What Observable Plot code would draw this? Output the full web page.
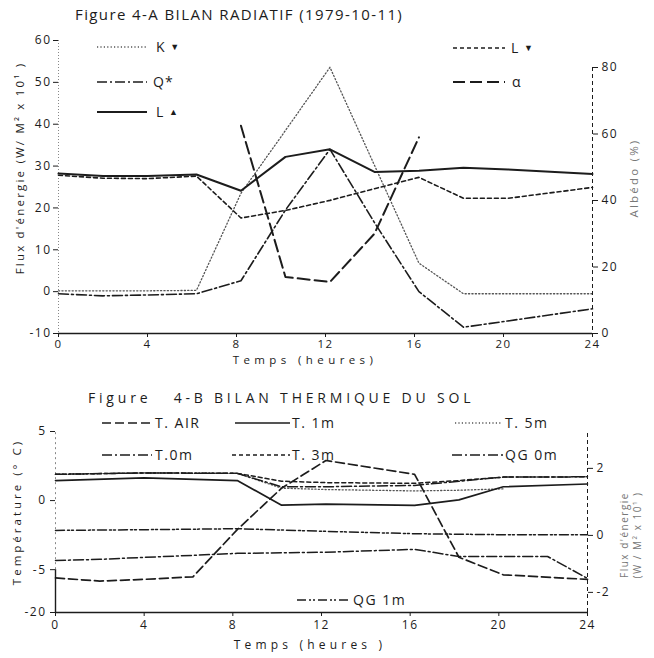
<!DOCTYPE html>
<html><head><meta charset="utf-8">
<script src="https://cdn.jsdelivr.net/npm/d3@7"></script>
<script src="https://cdn.jsdelivr.net/npm/@observablehq/plot@0.6"></script>
<style>
body{margin:0;background:#fff;}
#wrap{position:relative;width:654px;height:658px;overflow:hidden;background:#fff;font-family:"Open Sans",sans-serif;color:#1c1c1c;}
.lbl{position:absolute;white-space:pre;line-height:1;}
</style></head><body><div id="wrap"></div>
<script>
// ---------- Figure 4-A : BILAN RADIATIF ----------
const hoursA   = [0, 2, 4, 6.2, 8.2, 10.2, 12.2, 14.2, 16.2, 18.2, 20.2, 24];
const kDown    = [0.2, 0.2, 0.2, 0.3, 23.5, 38.5, 53.6, 30.2, 6.8, -0.5, -0.5, -0.5];
const lDown    = [27.8, 27.1, 27.0, 27.6, 17.6, 19.4, 21.8, 24.6, 27.3, 22.3, 22.3, 24.9];
const qStar    = [-0.5, -1.0, -0.8, -0.5, 2.6, 19.5, 34.0, 16.5, 0.0, -8.5, -7.0, -4.1];
const lUp      = [28.2, 27.6, 27.6, 28.0, 24.1, 32.2, 34.0, 28.6, 28.9, 29.6, 29.2, 28.1];
const hoursAlb = [8.2, 10.2, 12.2, 14.2, 16.2];
const albedo   = [62.5, 17, 15.5, 30, 59];
const ticksHoursA = [0, 4, 8, 12, 16, 20, 24];
const ticksFluxA  = [-10, 0, 10, 20, 30, 40, 50, 60];
const ticksAlbedo = [0, 20, 40, 60, 80];

// ---------- Figure 4-B : BILAN THERMIQUE DU SOL ----------
const hoursAir = [0, 2, 4, 6.2, 8.2, 10.2, 12.2, 16.2, 18.2, 20.2, 24];
const tAir     = [-7.9, -9.0, -8.4, -7.5, -2.1, 0.9, 2.9, 1.9, -4.1, -6.8, -8.4];
const hoursSoil = [0, 4, 8.2, 10.2, 12.2, 16.2, 18.2, 20.2, 24];
const t1m      = [1.45, 1.65, 1.45, -0.33, -0.25, -0.35, 0.05, 1.0, 1.2];
const t3m      = [1.9, 2.0, 1.97, 1.4, 1.3, 1.25, 1.45, 1.7, 1.72];
const t0m      = [1.9, 2.0, 1.97, 1.0, 1.0, 1.1, 1.4, 1.7, 1.72];
const hours5m  = [0, 4, 8.2, 10.2, 12.2, 16.2, 18.2, 20.2];
const t5m      = [1.9, 2.0, 1.97, 0.9, 0.8, 0.7, 0.75, 0.85];
const hoursQg0 = [0, 2, 4, 6.2, 8.2, 12.2, 16.2, 18.2, 22.2, 24];
const qg0m     = [-0.88, -0.84, -0.77, -0.70, -0.63, -0.59, -0.49, -0.74, -0.74, -1.51];
const hoursQg1 = [0, 4, 8.2, 12.2, 16.2, 20.2, 24];
const qg1m     = [0.15, 0.17, 0.2, 0.12, 0.05, 0.02, 0.02];
const ticksHoursB = [0, 4, 8, 12, 16, 20, 24];
const ticksTempB  = [5, 0, -5, -20];
const ticksFluxB  = [2, 0, -2];

// Broken (non-uniform) axes of Figure 4-B, as printed:
// temperature axis: -20 sits just below -5; flux axis: the negative half is compressed.
const tempBreak = d3.scaleLinear().domain([-20, -5, 0, 5]).range([-8.1, -5, 0, 5]);
const fluxBreak = d3.scaleLinear().domain([-2, 0, 2]).range([-1.7, 0, 2]);

// ---------- helpers ----------
const rows = (hs, vs) => hs.map((h, i) => ({h, v: vs[i]}));
const wrap = document.getElementById("wrap");
const W = 654, H = 658;
const INK = "#1c1c1c";
const baseStyle = {background: "transparent", fontFamily: "'Open Sans', sans-serif", fontSize: "12px", letterSpacing: "1.5px", color: INK, overflow: "visible"};
function add(svg) { svg.style.position = "absolute"; svg.style.left = "0px"; svg.style.top = "0px"; wrap.appendChild(svg); }

const DOT = "1.2,2.2", SHORT = "4,3", DASHDOT = "10,3,2,3", LONG = "12,5", LONGB = "9,4", DDD = "9,3,2,2,2,3";

// ---- Panel A, left scale (flux) ----
add(Plot.plot({
  width: W, height: H, marginLeft: 58, marginRight: 62, marginTop: 40, marginBottom: 325,
  style: baseStyle,
  x: {domain: [0, 24], axis: null},
  y: {domain: [-10, 60], axis: null},
  marks: [
    Plot.ruleX([0], {stroke: "#888", strokeDasharray: "1,2"}),
    Plot.ruleY([-10], {stroke: INK, strokeWidth: 1.4}),
    Plot.axisX({ticks: ticksHoursA, tickFormat: d => String(d), tickSize: 4, tickPadding: 2, label: null, fontSize: 11.5}),
    Plot.axisY({ticks: ticksFluxA, tickFormat: d => String(d), tickSize: 5, tickPadding: 2, label: null, fontSize: 12}),
    Plot.line(rows(hoursA, kDown), {x: "h", y: "v", stroke: "#555", strokeWidth: 1.3, strokeDasharray: DOT}),
    Plot.line(rows(hoursA, lDown), {x: "h", y: "v", stroke: INK, strokeWidth: 1.6, strokeDasharray: SHORT}),
    Plot.line(rows(hoursA, qStar), {x: "h", y: "v", stroke: INK, strokeWidth: 1.6, strokeDasharray: DASHDOT}),
    Plot.line(rows(hoursA, lUp), {x: "h", y: "v", stroke: INK, strokeWidth: 2})
  ]
}));

// ---- Panel A, right scale (albedo) ----
add(Plot.plot({
  width: W, height: H, marginLeft: 58, marginRight: 62, marginTop: 67, marginBottom: 325,
  style: baseStyle,
  x: {domain: [0, 24], axis: null},
  y: {domain: [0, 80], axis: null},
  marks: [
    Plot.ruleX([24], {stroke: INK, strokeDasharray: "4,3"}),
    Plot.axisY({anchor: "right", ticks: ticksAlbedo, tickFormat: d => String(d), tickSize: 5, tickPadding: 4, label: null, fontSize: 12}),
    Plot.line(rows(hoursAlb, albedo), {x: "h", y: "v", stroke: INK, strokeWidth: 2, strokeDasharray: LONG})
  ]
}));

// ---- Panel B, left scale (temperature, broken axis) ----
add(Plot.plot({
  width: W, height: H, marginLeft: 55, marginRight: 67, marginTop: 431, marginBottom: 46,
  style: baseStyle,
  x: {domain: [0, 24], axis: null},
  y: {domain: [tempBreak(-20), tempBreak(5)], axis: null},
  marks: [
    Plot.ruleX([0], {y1: tempBreak(-20), y2: tempBreak(-5), stroke: INK, strokeWidth: 1.4}),
    Plot.ruleX([0], {y1: tempBreak(-5), y2: tempBreak(5), stroke: "#888", strokeDasharray: "2,3"}),
    Plot.ruleY([tempBreak(-20)], {stroke: INK, strokeWidth: 1.4}),
    Plot.axisX({ticks: ticksHoursB, tickFormat: d => String(d), tickSize: 4, tickPadding: 4, label: null, fontSize: 12}),
    Plot.axisY({ticks: ticksTempB.map(tempBreak), tickFormat: d => String(Math.round(tempBreak.invert(d))), tickSize: 5, tickPadding: 4, label: null, fontSize: 12}),
    Plot.line(rows(hours5m, t5m), {x: "h", y: d => tempBreak(d.v), stroke: "#555", strokeWidth: 1.3, strokeDasharray: DOT}),
    Plot.line(rows(hoursSoil, t0m), {x: "h", y: d => tempBreak(d.v), stroke: INK, strokeWidth: 1.5, strokeDasharray: DASHDOT}),
    Plot.line(rows(hoursSoil, t3m), {x: "h", y: d => tempBreak(d.v), stroke: INK, strokeWidth: 1.5, strokeDasharray: SHORT}),
    Plot.line(rows(hoursSoil, t1m), {x: "h", y: d => tempBreak(d.v), stroke: INK, strokeWidth: 1.7}),
    Plot.line(rows(hoursAir, tAir), {x: "h", y: d => tempBreak(d.v), stroke: INK, strokeWidth: 1.7, strokeDasharray: LONGB})
  ]
}));

// ---- Panel B, right scale (ground heat flux) ----
add(Plot.plot({
  width: W, height: H, marginLeft: 55, marginRight: 67, marginTop: 433, marginBottom: 46,
  style: baseStyle,
  x: {domain: [0, 24], axis: null},
  y: {domain: [-2.3, 3.04], axis: null},
  marks: [
    Plot.ruleX([24], {stroke: INK, strokeDasharray: "4,3"}),
    Plot.axisY({anchor: "right", ticks: ticksFluxB.map(fluxBreak), tickFormat: d => String(Math.round(fluxBreak.invert(d))), tickSize: 5, tickPadding: 4, label: null, fontSize: 12}),
    Plot.line(rows(hoursQg0, qg0m), {x: "h", y: d => fluxBreak(d.v), stroke: INK, strokeWidth: 1.5, strokeDasharray: DASHDOT}),
    Plot.line(rows(hoursQg1, qg1m), {x: "h", y: d => fluxBreak(d.v), stroke: INK, strokeWidth: 1.5, strokeDasharray: DDD})
  ]
}));

// ---------- text, titles and legends ----------
function label(text, x, y, opts = {}) {
  const d = document.createElement("div");
  d.className = "lbl";
  d.innerHTML = text;
  d.style.left = x + "px";
  d.style.top = y + "px";
  d.style.fontSize = (opts.size || 13) + "px";
  d.style.letterSpacing = (opts.ls ?? 1) + "px";
  if (opts.color) d.style.color = opts.color;
  let t = opts.center ? "translate(-50%,-50%)" : "translate(0,-50%)";
  if (opts.rotate) t += " rotate(-90deg)";
  d.style.transform = t;
  wrap.appendChild(d);
}
function swatch(x1, x2, y, dash, sw = 1.6, color = INK) {
  const s = d3.create("svg").attr("width", x2 - x1).attr("height", 10)
    .style("position", "absolute").style("left", x1 + "px").style("top", (y - 5) + "px");
  s.append("line").attr("x1", 0).attr("x2", x2 - x1).attr("y1", 5).attr("y2", 5)
    .attr("stroke", color).attr("stroke-width", sw).attr("stroke-dasharray", dash || null);
  wrap.appendChild(s.node());
}
const tri = c => `<span style="font-size:9px;vertical-align:2px">${c}</span>`;

// Panel A
label("Figure 4-A BILAN RADIATIF (1979-10-11)", 75, 14, {size: 15, ls: 1.4});
swatch(97, 147, 47, DOT, 1.3, "#555");   label("K " + tri("▼"), 156, 47, {size: 14});
swatch(97, 147, 82, DASHDOT, 1.6);       label("Q*", 153, 82, {size: 14});
swatch(97, 147, 112, null, 2);           label("L " + tri("▲"), 156, 112, {size: 14});
swatch(453, 505, 48, SHORT, 1.6);        label("L " + tri("▼"), 511, 48, {size: 14});
swatch(453, 505, 82, LONG, 2);           label("α", 512, 82, {size: 14});
label("Temps (heures)", 305, 360, {size: 11.5, ls: 4.4, center: true});
label("Flux d'énergie (W/ M² x 10¹ )", 20, 168, {size: 11.5, ls: 2.2, center: true, rotate: true});
label("Albédo (%)", 634, 178, {size: 11.5, ls: 2.2, center: true, rotate: true, color: "#777"});

// Panel B
label("Figure   4-B BILAN THERMIQUE DU SOL", 88, 398, {size: 14, ls: 3.8});
swatch(102, 152, 423, LONGB, 1.7);       label("T. AIR", 155, 423, {size: 14, ls: 1.5});
swatch(235, 290, 423, null, 1.7);        label("T. 1m", 292, 423, {size: 14, ls: 1.5});
swatch(455, 502, 423, DOT, 1.3, "#555"); label("T. 5m", 505, 423, {size: 14, ls: 1.5});
swatch(102, 152, 455, DASHDOT, 1.5);     label("T.0m", 155, 455, {size: 14, ls: 1.5});
swatch(232, 290, 455, SHORT, 1.5);       label("T. 3m", 292, 455, {size: 14, ls: 1.5});
swatch(452, 503, 455, DASHDOT, 1.5);     label("QG 0m", 505, 455, {size: 14, ls: 1.5});
swatch(297, 350, 600, DDD, 1.5);         label("QG 1m", 353, 600, {size: 14, ls: 1.5});
label("Temps (heures )", 310, 645, {size: 12, ls: 4.2, center: true});
label("Température (° C)", 17, 512, {size: 11.5, ls: 3, center: true, rotate: true});
label("Flux d'énergie", 624, 535, {size: 10, ls: 1.5, center: true, rotate: true, color: "#777"});
label("(W / M² x 10¹ )", 637, 535, {size: 10, ls: 1.5, center: true, rotate: true, color: "#777"});
</script></body></html>
